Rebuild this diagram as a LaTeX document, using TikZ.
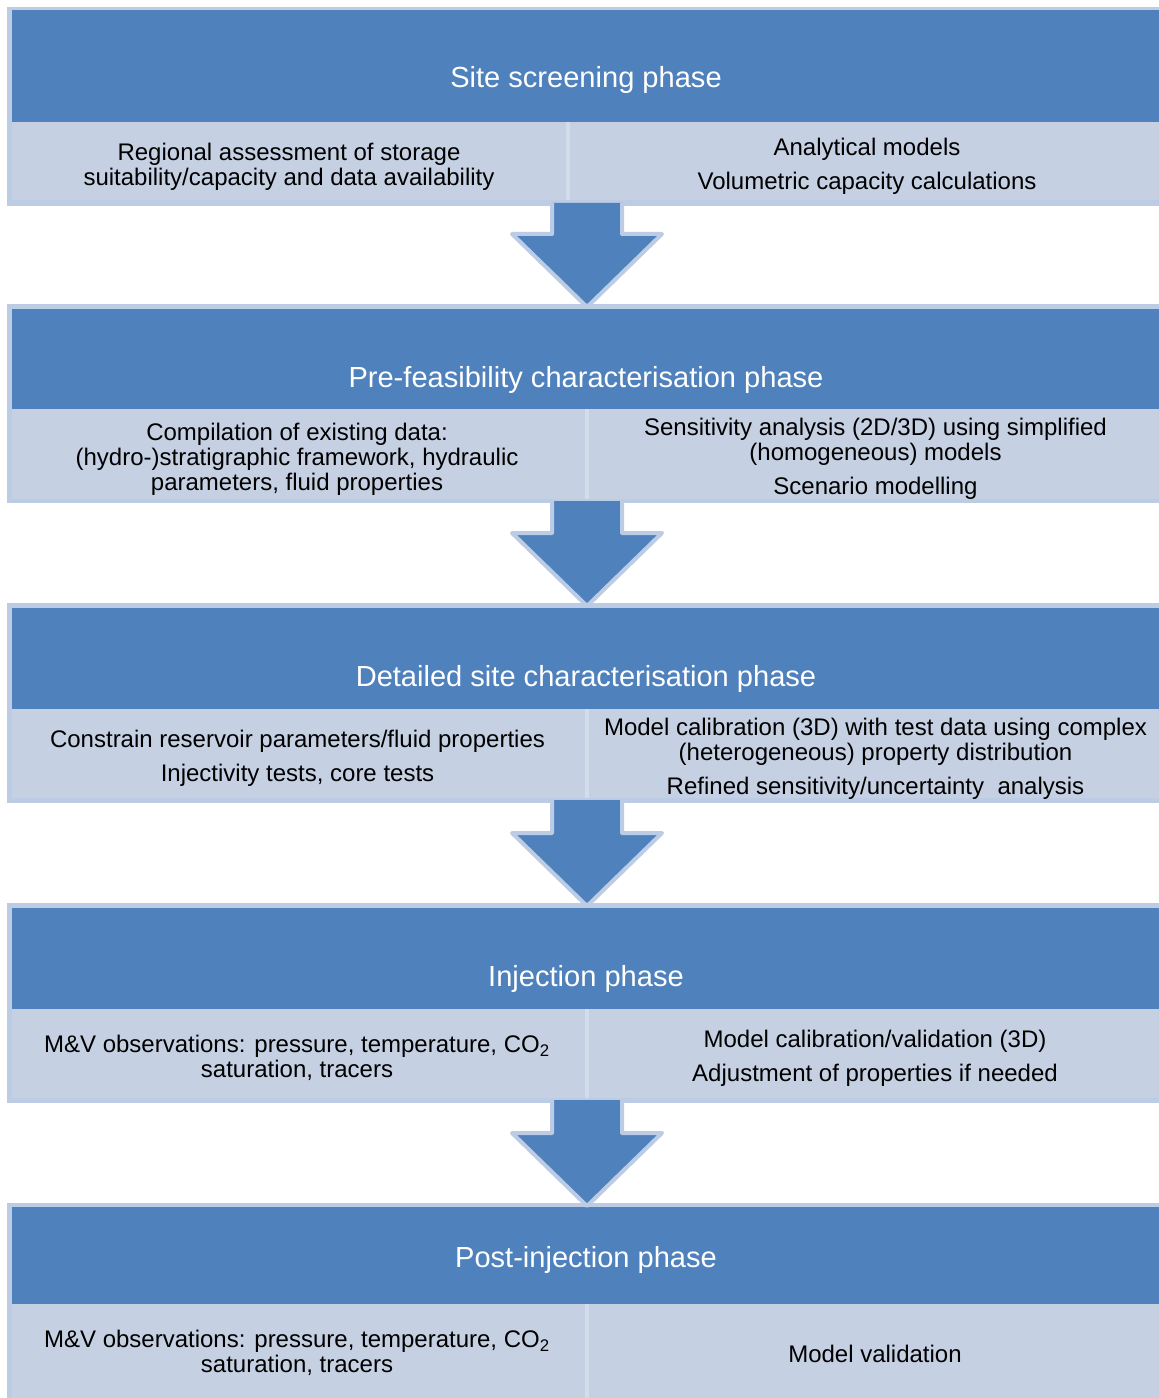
\documentclass[tikz,border=0pt]{standalone}
\usepackage{fontspec}
\setmainfont{Liberation Sans}
\usetikzlibrary{calc}

\definecolor{phaseblue}{RGB}{79,129,189}
\definecolor{cellblue}{RGB}{197,208,227}
\definecolor{rimblue}{RGB}{187,204,228}
\definecolor{splitblue}{RGB}{210,220,235}

\tikzset{every picture/.style={line width=0.75pt}}
\tikzset{
  phasetitle/.style={inner sep=0.75pt, text=white, font=\fontsize{21.8}{26}\selectfont},
  celltext/.style={inner sep=0.75pt, align=center, font=\fontsize{18}{18.75}\selectfont},
  split/.style={draw=splitblue, line width=3pt},
  bigarrow/.style={fill=phaseblue, draw=rimblue, line width=3pt, line join=round}
}

\begin{document}
\begin{tikzpicture}[x=0.75pt,y=0.75pt,yscale=-1,xscale=1]
\useasboundingbox (0,0) rectangle (1159,1398);

%Shape: Rectangle [site screening]
\fill [rimblue] (7,7) rectangle (1159,206);
\fill [phaseblue] (12,10) rectangle (1159,122);
\fill [cellblue] (12,122) rectangle (1159,200);
\draw [split] (568,122) -- (568,200);
\coordinate (ph1-out) at (587,203);

%Shape: Rectangle [pre-feasibility]
\fill [rimblue] (7,304) rectangle (1159,503);
\fill [phaseblue] (12,309) rectangle (1159,409);
\fill [cellblue] (12,409) rectangle (1159,499);
\draw [split] (587,409) -- (587,499);
\coordinate (ph2-in) at (587,307);
\coordinate (ph2-out) at (587,501);

%Shape: Rectangle [detailed site characterisation]
\fill [rimblue] (7,603) rectangle (1159,803);
\fill [phaseblue] (12,608) rectangle (1159,709);
\fill [cellblue] (12,709) rectangle (1159,798);
\draw [split] (587,709) -- (587,798);
\coordinate (ph3-in) at (587,606);
\coordinate (ph3-out) at (587,800);

%Shape: Rectangle [injection]
\fill [rimblue] (7,903) rectangle (1159,1103);
\fill [phaseblue] (12,908) rectangle (1159,1009);
\fill [cellblue] (12,1009) rectangle (1159,1098);
\draw [split] (587,1009) -- (587,1098);
\coordinate (ph4-in) at (587,906);
\coordinate (ph4-out) at (587,1100);

%Shape: Rectangle [post-injection]
\fill [rimblue] (7,1203) rectangle (1159,1398);
\fill [phaseblue] (12,1207) rectangle (1159,1304);
\fill [cellblue] (12,1304) rectangle (1159,1398);
\draw [split] (587,1304) -- (587,1398);
\coordinate (ph5-in) at (587,1206);

%Block arrows between the phases
\draw [bigarrow] ($(ph1-out)+(-35,0)$) -- ($(ph2-in)+(-35,-73)$) -- ($(ph2-in)+(-75,-73)$) -- (ph2-in) -- ($(ph2-in)+(75,-73)$) -- ($(ph2-in)+(35,-73)$) -- ($(ph1-out)+(35,0)$) ;
\draw [bigarrow] ($(ph2-out)+(-35,0)$) -- ($(ph3-in)+(-35,-73)$) -- ($(ph3-in)+(-75,-73)$) -- (ph3-in) -- ($(ph3-in)+(75,-73)$) -- ($(ph3-in)+(35,-73)$) -- ($(ph2-out)+(35,0)$) ;
\draw [bigarrow] ($(ph3-out)+(-35,0)$) -- ($(ph4-in)+(-35,-73)$) -- ($(ph4-in)+(-75,-73)$) -- (ph4-in) -- ($(ph4-in)+(75,-73)$) -- ($(ph4-in)+(35,-73)$) -- ($(ph3-out)+(35,0)$) ;
\draw [bigarrow] ($(ph4-out)+(-35,0)$) -- ($(ph5-in)+(-35,-73)$) -- ($(ph5-in)+(-75,-73)$) -- (ph5-in) -- ($(ph5-in)+(75,-73)$) -- ($(ph5-in)+(35,-73)$) -- ($(ph4-out)+(35,0)$) ;

% Text Node
\node [phasetitle] (title1) at (586,80) {Site screening phase};
% Text Node
\node [celltext] (left1) at (289,166.5) {Regional assessment of storage\\suitability/capacity and data availability};
% Text Node
\node [celltext] (right1) at (867,166) {Analytical models\\[7pt]Volumetric capacity calculations};

% Text Node
\node [phasetitle] (title2) at (586,380) {Pre-feasibility characterisation phase};
% Text Node
\node [celltext] (left2) at (297,459) {Compilation of existing data:\\(hydro-)stratigraphic framework, hydraulic\\parameters, fluid properties};
% Text Node
\node [celltext] (right2) at (875.5,459) {Sensitivity analysis (2D/3D) using simplified\\(homogeneous) models\\[7pt]Scenario modelling};

% Text Node
\node [phasetitle] (title3) at (586,679) {Detailed site characterisation phase};
% Text Node
\node [celltext] (left3) at (297.5,758.5) {Constrain reservoir parameters/fluid properties\\[7pt]Injectivity tests, core tests};
% Text Node
\node [celltext] (right3) at (875.5,758.5) {Model calibration (3D) with test data using complex\\(heterogeneous) property distribution\\[7pt]Refined sensitivity/uncertainty~ analysis};

% Text Node
\node [phasetitle] (title4) at (586,979) {Injection phase};
% Text Node
\node [celltext] (left4) at (297,1058) {M\&V observations: pressure, temperature, CO\textsubscript{2}\\saturation, tracers};
% Text Node
\node [celltext] (right4) at (875,1058) {Model calibration/validation (3D)\\[7pt]Adjustment of properties if needed};

% Text Node
\node [phasetitle] (title5) at (586,1260) {Post-injection phase};
% Text Node
\node [celltext] (left5) at (297,1353) {M\&V observations: pressure, temperature, CO\textsubscript{2}\\saturation, tracers};
% Text Node
\node [celltext] (right5) at (875,1354) {Model validation};

\end{tikzpicture}
\end{document}
